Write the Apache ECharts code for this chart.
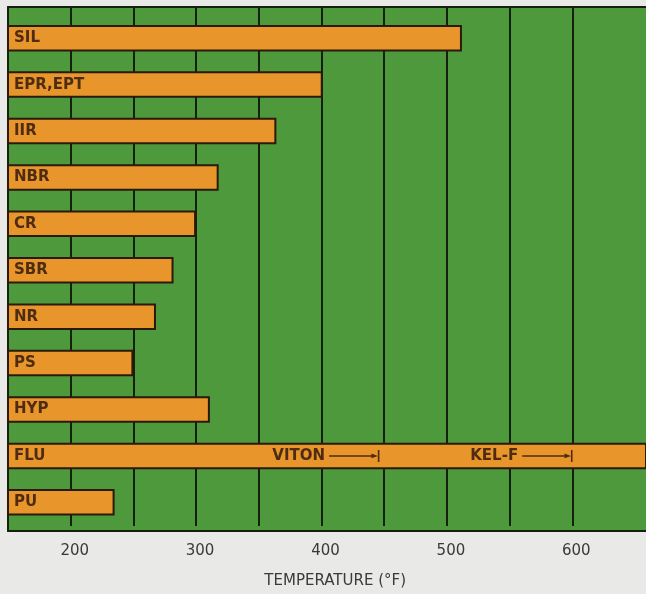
<!DOCTYPE html>
<html>
<head>
<meta charset="utf-8">
<script src="https://cdn.jsdelivr.net/npm/echarts@6/dist/echarts.min.js"></script>
<style>
  html, body { margin: 0; padding: 0; background: #e9e9e7; }
  #chart { width: 646px; height: 594px; }
</style>
</head>
<body>
<div id="chart"></div>
<script>
// ---- data ----
const categories = ['SIL', 'EPR,EPT', 'IIR', 'NBR', 'CR', 'SBR', 'NR', 'PS', 'HYP', 'FLU', 'PU'];
const maxTemps   = [512, 401, 364, 318, 300, 282, 268, 250, 311, 700, 235];
const tickLabels = [200, 300, 400, 500, 600];
const annotationNames = ['VITON', 'KEL-F'];
const annotationEnds  = [443, 597];
const annotationCategory = 'FLU';
const axisTitle = 'TEMPERATURE (°F)';

// ---- style constants ----
const CHART_W = 646;
const X_MIN = 150, X_MAX = 600;
const PX_PER_DEG = 1.254;
const LEFT = 8;
const PLOT_W = (X_MAX - X_MIN) * PX_PER_DEG;
const PANEL_W = CHART_W - LEFT;            // panel runs to the right edge
const PANEL_MAX = X_MIN + PANEL_W / PX_PER_DEG;
const ARROW_LEN = 37; // arrow length in °F units
const ink = '#2a1a0c';
const frameInk = '#16200e';
const labelInk = '#4e2c12';
const font = 'DejaVu Sans';

const chart = echarts.init(document.getElementById('chart'), null, { renderer: 'canvas' });

const markData = annotationNames.map((n, i) => [
  { coord: [annotationEnds[i] - ARROW_LEN, annotationCategory], name: n },
  { coord: [annotationEnds[i], annotationCategory] }
]);

const frameLine = { show: true, lineStyle: { color: frameInk, width: 2 } };

chart.setOption({
  backgroundColor: '#e9e9e7',
  animation: false,
  grid: [
    // green panel
    { left: LEFT, right: 0, top: 7, bottom: 63, show: true, backgroundColor: '#4e993b',
      borderWidth: 0 },
    // vertical rules + tick labels
    { left: LEFT, width: PLOT_W, top: 7, bottom: 63 },
    // bars
    { left: LEFT, right: 0, top: 15, bottom: 68.5 },
    // frame lines (top, bottom, left)
    { left: LEFT, right: 0, top: 7, bottom: 63 }
  ],
  xAxis: [
    { gridIndex: 0, type: 'value', min: 0, max: 1, show: false },
    { gridIndex: 1, type: 'value', min: X_MIN, max: X_MAX, interval: 50,
      axisLine: { show: false }, axisTick: { show: false },
      splitLine: { show: true, lineStyle: { color: frameInk, width: 2 } },
      axisLabel: { margin: 18, fontSize: 15, fontFamily: font, color: '#3a3a3a',
        padding: [0, 0, 0, 8], showMinLabel: true, showMaxLabel: true,
        formatter: v => tickLabels.includes(v) ? String(v) : '' },
      name: axisTitle, nameLocation: 'middle', nameGap: 48,
      nameTextStyle: { fontSize: 15, fontFamily: font, color: '#3a3a3a', padding: [0, 0, 0, 90] }
    },
    { gridIndex: 2, type: 'value', min: X_MIN, max: PANEL_MAX, show: false },
    { gridIndex: 3, type: 'value', min: 0, max: 1, position: 'bottom',
      axisLine: frameLine, axisTick: { show: false }, axisLabel: { show: false }, splitLine: { show: false } },
    { gridIndex: 3, type: 'value', min: 0, max: 1, position: 'top',
      axisLine: frameLine, axisTick: { show: false }, axisLabel: { show: false }, splitLine: { show: false } }
  ],
  yAxis: [
    { gridIndex: 0, type: 'value', min: 0, max: 1, show: false },
    { gridIndex: 1, type: 'value', min: 0, max: 1, show: false },
    { gridIndex: 2, type: 'category', data: categories, inverse: true, show: false },
    { gridIndex: 3, type: 'value', min: 0, max: 1, position: 'left',
      axisLine: frameLine, axisTick: { show: false }, axisLabel: { show: false }, splitLine: { show: false } }
  ],
  series: [{
    type: 'bar',
    xAxisIndex: 2, yAxisIndex: 2,
    data: maxTemps,
    barWidth: 26.5,
    clip: true,
    itemStyle: { color: '#e8952b', borderColor: ink, borderWidth: 2 },
    label: {
      show: true, position: 'insideLeft', distance: 7,
      formatter: p => p.name,
      fontSize: 15, fontWeight: 'bold', fontFamily: font, color: labelInk
    },
    markLine: {
      silent: true,
      animation: false,
      symbol: ['none', 'path://M0,0 L12,0 L12,1.6 L0,1.6 Z M6,1.6 L8.3,8 L3.7,8 Z'],
      symbolSize: [12, 8],
      lineStyle: { color: labelInk, width: 1.5, type: 'solid' },
      label: {
        show: true, position: 'start', distance: 4,
        formatter: p => p.name,
        fontSize: 15, fontWeight: 'bold', fontFamily: font, color: labelInk
      },
      data: markData
    }
  }]
});
</script>
</body>
</html>
